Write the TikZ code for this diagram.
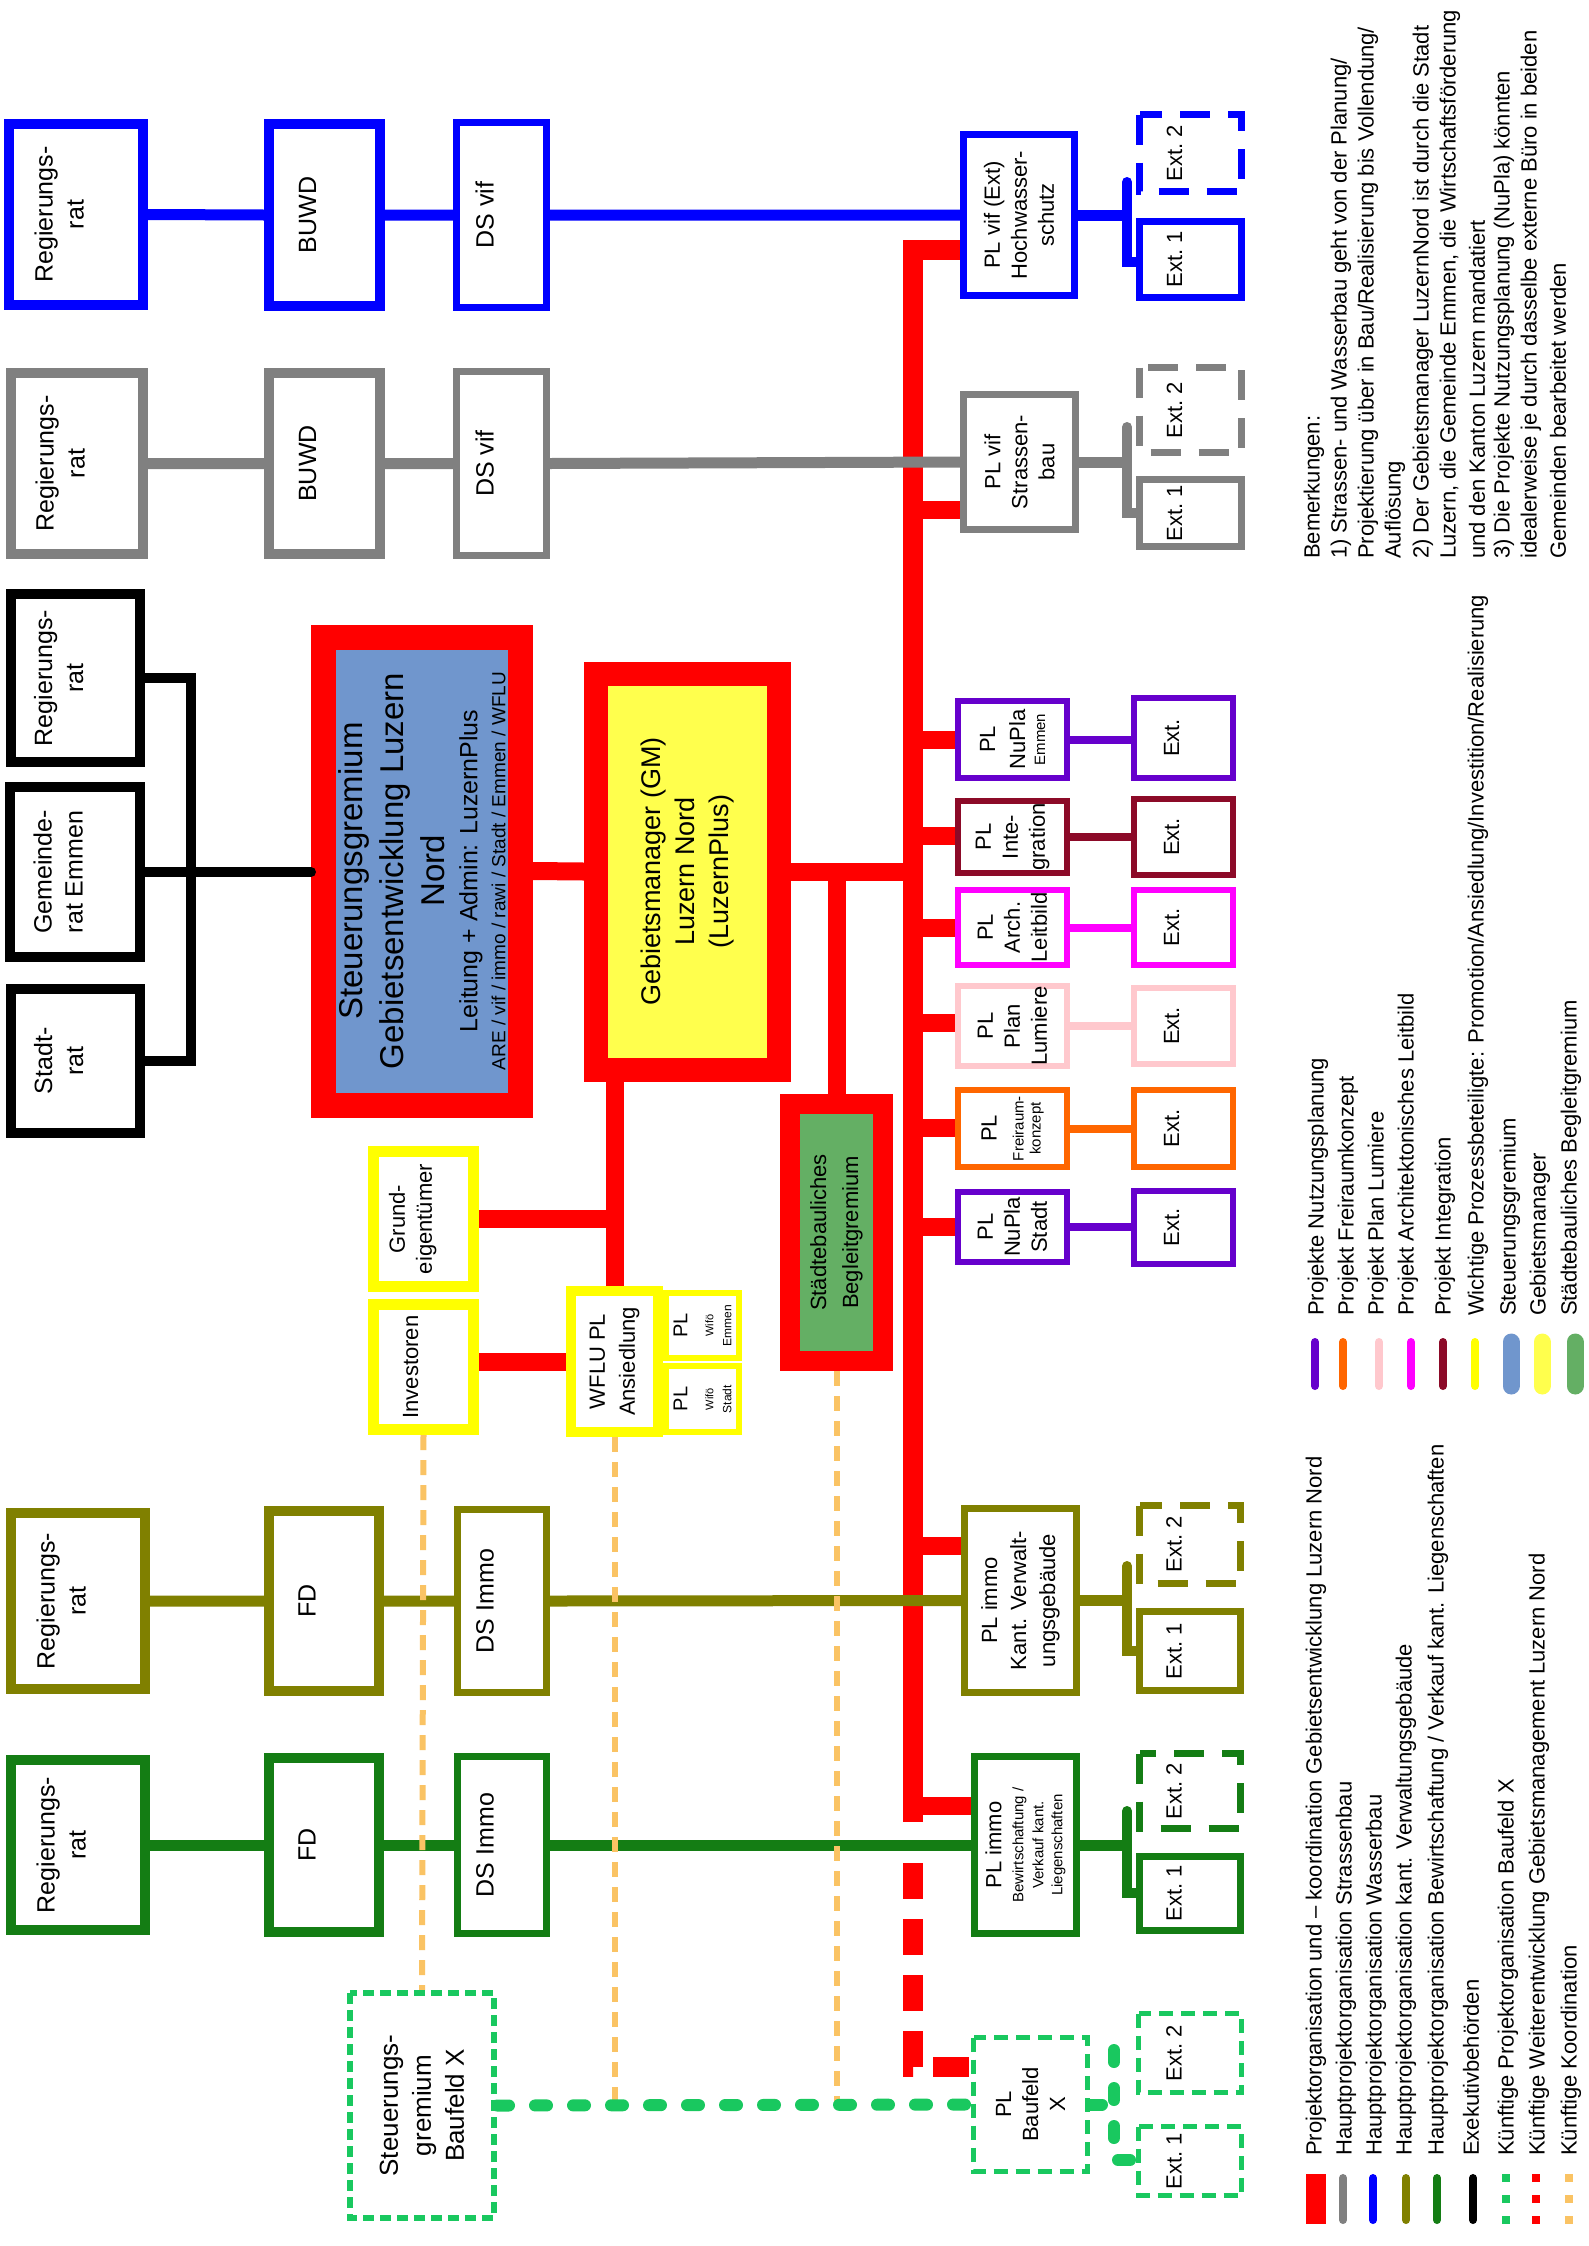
\documentclass[tikz,border=0pt]{standalone}
\usepackage{fontspec}
\setmainfont{Liberation Sans}
\pgfdeclarelayer{bg}
\pgfsetlayers{bg,main}
\newcommand\myfs[2]{\fontsize{#1}{#2}\selectfont}
\definecolor{cred}{RGB}{255,0,0}
\definecolor{cgrey}{RGB}{128,128,128}
\definecolor{cblue}{RGB}{0,0,255}
\definecolor{colive}{RGB}{128,128,0}
\definecolor{cgreen}{RGB}{20,125,20}
\definecolor{cpurple}{RGB}{102,0,204}
\definecolor{corange}{RGB}{255,102,0}
\definecolor{cpink}{RGB}{255,200,205}
\definecolor{cmagenta}{RGB}{255,0,255}
\definecolor{cdarkred}{RGB}{140,10,40}
\definecolor{cyellow}{RGB}{255,255,0}
\definecolor{cgmfill}{RGB}{255,255,77}
\definecolor{csgfill}{RGB}{112,150,205}
\definecolor{csbfill}{RGB}{100,175,100}
\definecolor{cfuture}{RGB}{25,200,95}
\definecolor{ccoord}{RGB}{250,195,100}
\tikzset{
  box/.style={draw, rotate=90, align=center, inner sep=0pt, fill=white, text=black, font=\myfs{22}{27}},
  exec/.style={box, font=\myfs{25}{31}, text depth=34},
  ext/.style={box, line width=7, text depth=32},
  sz/.style 2 args={minimum width=#2, minimum height=#1},
  dsh/.style={dash pattern=on 30pt off 18pt},
  conn/.style={line width=11},
  redl/.style={cred, line width=20},
  reds/.style={cred, line width=18},
  pext/.style={line width=8},
  coordl/.style={ccoord, line width=6, dash pattern=on 15pt off 10pt},
  futl/.style={cfuture, line width=12, line cap=round, dash pattern=on 12pt off 26pt},
  leg/.style={rotate=90, anchor=west, inner sep=0pt, font=\myfs{22}{27}},
  legbar/.style={line width=8, line cap=round},
}
\begin{document}
\begin{tikzpicture}[x=1pt,y=-1pt]
\useasboundingbox (0,0) rectangle (1588,2246);
% ---------- blue row
\node[exec, draw=cblue, line width=10, sz={134}{181}] (bRR) at (76,214.5) {Regierungs-\\rat};
\node[exec, draw=cblue, line width=10, sz={111}{182}] (bBU) at (324.5,215) {BUWD};
\node[exec, draw=cblue, line width=7, sz={90}{185}] (bDS) at (501.5,215) {DS vif};
\node[box, draw=cblue, line width=7, sz={111}{161}] (bPL) at (1019,215) {PL vif (Ext)\\Hochwasser-\\schutz};
\node[ext, draw=cblue, dsh, sz={102}{77}] (bE2) at (1190.5,153) {Ext.\ 2};
\node[ext, draw=cblue, sz={102}{76}] (bE1) at (1190.5,259.5) {Ext.\ 1};
% ---------- grey row
\node[exec, draw=cgrey, line width=10, sz={132}{181}] (gRR) at (77,463.5) {Regierungs-\\rat};
\node[exec, draw=cgrey, line width=10, sz={111}{181}] (gBU) at (324.5,463.5) {BUWD};
\node[exec, draw=cgrey, line width=7, sz={90}{184}] (gDS) at (501.5,463.5) {DS vif};
\node[box, draw=cgrey, line width=7, sz={112}{135}] (gPL) at (1019.5,462) {PL vif\\Strassen-\\bau};
\node[ext, draw=cgrey, dsh, sz={102}{85}] (gE2) at (1190.5,410) {Ext.\ 2};
\node[ext, draw=cgrey, sz={102}{67}] (gE1) at (1190.5,513) {Ext.\ 1};
% ---------- black
\node[exec, draw=black, line width=10, sz={129}{168}] (kRR) at (75.5,678) {Regierungs-\\rat};
\node[exec, draw=black, line width=10, sz={130}{170}] (kGR) at (75,872) {Gemeinde-\\rat Emmen};
\node[exec, draw=black, line width=10, sz={129}{144}] (kSR) at (75.5,1061) {Stadt-\\rat};
% ---------- central
\node[box, draw=cred, fill=csgfill, line width=25, sz={197}{468}, font=\myfs{33}{41}] (SG) at (422,871) {Steuerungsgremium\\Gebietsentwicklung Luzern\\Nord\\[-8pt]{\myfs{25}{31}Leitung + Admin: LuzernPlus}\\[-13pt]{\myfs{19}{24}ARE / vif / immo / rawi / Stadt / Emmen / WFLU}};
\node[box, draw=cred, fill=cgmfill, line width=24, sz={183}{396}, font=\myfs{27}{34}] (GM) at (687.5,871.5) {Gebietsmanager (GM)\\Luzern Nord\\(LuzernPlus)};
\node[box, draw=cred, fill=csbfill, line width=20, sz={93}{257}, font=\myfs{22}{32}] (SB) at (836.5,1232.5) {Städtebauliches\\Begleitgremium};
\node[box, draw=cyellow, line width=11, sz={100}{135}, text depth=26] (GE) at (423.5,1219) {Grund-\\eigentümer};
\node[box, draw=cyellow, line width=11, sz={100}{125}, text depth=26] (IN) at (423.5,1367) {Investoren};
\node[box, draw=cyellow, line width=10, sz={87}{141}, font=\myfs{22}{30}] (WF) at (614.5,1361.5) {WFLU PL\\Ansiedlung};
\node[box, draw=cyellow, line width=6, sz={73}{65}, font=\myfs{20}{24}] (WE) at (702.5,1325.5) {PL\\[2pt]{\myfs{11}{13}Wifö}\\[-6pt]{\myfs{12}{14}Emmen}};
\node[box, draw=cyellow, line width=6, sz={73}{66}, font=\myfs{20}{24}] (WS) at (702.5,1399) {PL\\[2pt]{\myfs{11}{13}Wifö}\\[-6pt]{\myfs{12}{14}Stadt}};
% ---------- project boxes
\node[box, draw=cpurple, line width=6, sz={109}{77}] (NE) at (1012.5,739.5) {PL\\[3pt]NuPla\\[-7pt]{\myfs{15}{17}Emmen}};
\node[box, draw=cpurple, line width=6, sz={99}{80}, text depth=24] (NEx) at (1183.5,738) {Ext.};
\node[box, draw=cdarkred, line width=6, sz={109}{72}] (IG) at (1012.5,837) {PL\\Inte-\\gration};
\node[box, draw=cdarkred, line width=6, sz={99}{76}, text depth=24] (IGx) at (1183.5,837) {Ext.};
\node[box, draw=cmagenta, line width=6, sz={109}{75}] (AL) at (1012.5,927.5) {PL\\Arch.\\Leitbild};
\node[box, draw=cmagenta, line width=6, sz={99}{75}, text depth=24] (ALx) at (1183.5,927.5) {Ext.};
\node[box, draw=cpink, line width=6, sz={109}{76}] (LU) at (1012.5,1026) {PL\\Plan\\Lumiere};
\node[box, draw=cpink, line width=6, sz={99}{76}, text depth=24] (LUx) at (1183.5,1026) {Ext.};
\node[box, draw=corange, line width=6, sz={109}{77}] (FR) at (1012.5,1128.5) {PL\\{\myfs{15}{17}Freiraum-}\\[-10pt]{\myfs{15}{17}konzept}};
\node[box, draw=corange, line width=6, sz={99}{77}, text depth=24] (FRx) at (1183.5,1128.5) {Ext.};
\node[box, draw=cpurple, line width=6, sz={109}{70}] (NS) at (1012.5,1227) {PL\\NuPla\\Stadt};
\node[box, draw=cpurple, line width=6, sz={99}{73}, text depth=24] (NSx) at (1183.5,1227.5) {Ext.};
% ---------- olive row
\node[exec, draw=colive, line width=10, sz={134}{176}] (oRR) at (78,1601) {Regierungs-\\rat};
\node[exec, draw=colive, line width=10, sz={110}{180}] (oFD) at (324,1601) {FD};
\node[exec, draw=colive, line width=7, sz={89}{183}] (oDS) at (502,1601) {DS Immo};
\node[box, draw=colive, line width=7, sz={112}{184}, font=\myfs{22}{29}] (oPL) at (1020.5,1600.5) {PL immo\\Kant. Verwalt-\\ungsgebäude};
\node[ext, draw=colive, dsh, sz={101}{78}] (oE2) at (1190,1544.5) {Ext.\ 2};
\node[ext, draw=colive, sz={101}{79}] (oE1) at (1190,1651) {Ext.\ 1};
% ---------- green row
\node[exec, draw=cgreen, line width=10, sz={134}{170}] (nRR) at (78,1845) {Regierungs-\\rat};
\node[exec, draw=cgreen, line width=10, sz={110}{174}] (nFD) at (324,1845) {FD};
\node[exec, draw=cgreen, line width=7, sz={89}{177}] (nDS) at (502,1845) {DS Immo};
\node[box, draw=cgreen, line width=7, sz={102}{177}] (nPL) at (1025.5,1845) {PL immo\\[-5pt]{\myfs{15}{17}Bewirtschaftung /}\\[-7pt]{\myfs{15}{17}Verkauf kant.}\\[-8pt]{\myfs{15}{17}Liegenschaften}};
\node[ext, draw=cgreen, dsh, sz={101}{75}] (nE2) at (1190,1791) {Ext.\ 2};
\node[ext, draw=cgreen, sz={101}{74}] (nE1) at (1190,1893.5) {Ext.\ 1};
% ---------- future
\node[box, draw=cfuture, line width=6, dash pattern=on 11pt off 6pt, sz={144}{225}, font=\myfs{26}{33}] (fSG) at (422,2105.5) {Steuerungs-\\gremium\\Baufeld X};
\node[box, draw=cfuture, line width=5, dash pattern=on 14pt off 8pt, sz={114}{134}] (fPL) at (1030.5,2104.5) {PL\\Baufeld\\X};
\node[ext, draw=cfuture, line width=5, dash pattern=on 14pt off 8pt, sz={103}{79}] (fE2) at (1190,2053) {Ext.\ 2};
\node[ext, draw=cfuture, line width=5, dash pattern=on 14pt off 8pt, sz={103}{69}] (fE1) at (1190,2161) {Ext.\ 1};

% ---------- connectors
\begin{pgfonlayer}{bg}
\fill[white] (0,0) rectangle (1588,2246);
\coordinate (tTop) at (913,250);
\coordinate (tEnd) at (913,1822);
\draw[redl] (bPL.north |- tTop) -- (tTop) -- (tEnd);
\draw[reds] (SG.south) -- (GM.north);
\draw[reds] (GM.south) -- (GM.south -| tTop);
\coordinate (gsb) at (836.5,871.5);
\draw[reds] (gsb) -- (SB.east);
\draw[reds] (WF.east |- GM.west) -- (WF.east);
\draw[reds] (GE.south) -- (GE.south -| WF.east);
\draw[reds] (WF.north) -- (WF.north -| IN.south);
\foreach \n/\yy in {gPL/510,NE/740,IG/836,AL/928,LU/1023,FR/1128,NS/1227,oPL/1546,nPL/1806}{
  \coordinate (s\n) at (913,\yy);
  \draw[reds] (s\n) -- (s\n -| \n.north);
}
\coordinate (tD) at (913,1863);
\coordinate (tC) at (913,2067);
\draw[cred, line width=20, dash pattern=on 36pt off 20pt] (tD) -- (tC) -- (tC -| fPL.north);
% blue
\draw[conn, cblue] (bRR.south) -- (bBU.north) (bBU.south) -- (bDS.north) (bDS.south) -- (bPL.north);
\coordinate (bb1) at (1127,182); \coordinate (bb2) at (1127,262);
\draw[conn, cblue] (bPL.south) -- (bPL.south -| bb1);
\draw[cblue, line width=10, line cap=round] (bb1) -- (bb2) -- (bb2 -| bE1.north);
% grey
\draw[conn, cgrey] (gRR.south) -- (gBU.north) (gBU.south) -- (gDS.north) (gDS.south) -- (gPL.north);
\coordinate (gb1) at (1127,427); \coordinate (gb2) at (1127,513);
\draw[conn, cgrey] (gPL.south) -- (gPL.south -| gb1);
\draw[cgrey, line width=10, line cap=round] (gb1) -- (gb2) -- (gb2 -| gE1.north);
% olive
\draw[conn, colive] (oRR.south) -- (oFD.north) (oFD.south) -- (oDS.north) (oDS.south) -- (oPL.north);
\coordinate (ob1) at (1127,1566); \coordinate (ob2) at (1127,1651);
\draw[conn, colive] (oPL.south) -- (oPL.south -| ob1);
\draw[colive, line width=10, line cap=round] (ob1) -- (ob2) -- (ob2 -| oE1.north);
% green
\draw[conn, cgreen] (nRR.south) -- (nFD.north) (nFD.south) -- (nDS.north) (nDS.south) -- (nPL.north);
\coordinate (nb1) at (1127,1811); \coordinate (nb2) at (1127,1893);
\draw[conn, cgreen] (nPL.south) -- (nPL.south -| nb1);
\draw[cgreen, line width=10, line cap=round] (nb1) -- (nb2) -- (nb2 -| nE1.north);
% projects
\draw[pext, cpurple] (NE.south) -- (NE.south -| NEx.north);
\draw[pext, cdarkred] (IG.south) -- (IGx.north);
\draw[pext, cmagenta] (AL.south) -- (ALx.north);
\draw[pext, cpink] (LU.south) -- (LUx.north);
\draw[pext, corange] (FR.south) -- (FRx.north);
\draw[pext, cpurple] (NS.south) -- (NS.south -| NSx.north);
% coordination
\coordinate (fl) at (0,2105);
\draw[coordl] (IN.west) -- (fSG.east);
\draw[coordl] (WF.west) -- (WF.west |- fl);
\draw[coordl] (SB.west) -- (SB.west |- fl);
% future
\draw[futl] (fSG.south) -- (fPL.north);
\coordinate (fb1) at (1114,2050); \coordinate (fb2) at (1114,2160);
\draw[futl] (fPL.south) -- (fPL.south -| fb1);
\draw[futl] (fb1) -- (fb2) -- (fb2 -| fE1.north);
\end{pgfonlayer}

% black executive bracket
\coordinate (kb) at (191,871);
\draw[line width=10] (kRR.south) -| (kb) |- (kSR.south);
\draw[line width=10, line cap=round] (kGR.south) -- (kGR.south -| SG.north);

% ---------- remarks
\node[leg] (m0) at (1314,559) {Bemerkungen:};
\node[leg] (m1) at (1341,559) {1) Strassen- und Wasserbau geht von der Planung/};
\node[leg] (m2) at (1368,559) {Projektierung über in Bau/Realisierung bis Vollendung/};
\node[leg] (m3) at (1395,559) {Auflösung};
\node[leg] (m4) at (1423,559) {2) Der Gebietsmanager LuzernNord ist durch die Stadt};
\node[leg] (m5) at (1450,559) {Luzern, die Gemeinde Emmen, die Wirtschaftsförderung};
\node[leg] (m6) at (1477,559) {und den Kanton Luzern mandatiert};
\node[leg] (m7) at (1504,559) {3) Die Projekte Nutzungsplanung (NuPla) könnten};
\node[leg] (m8) at (1531,559) {idealerweise je durch dasselbe externe Büro in beiden};
\node[leg] (m9) at (1558,559) {Gemeinden bearbeitet werden};

% ---------- right legend
\draw[legbar, cpurple] (1315,1342) -- (1315,1386);
\node[leg] (r1) at (1318,1316) {Projekte Nutzungsplanung};
\draw[legbar, corange] (1343,1342) -- (1343,1386);
\node[leg] (r2) at (1348,1316) {Projekt Freiraumkonzept};
\draw[legbar, cpink] (1379,1342) -- (1379,1386);
\node[leg] (r3) at (1378,1316) {Projekt Plan Lumiere};
\draw[legbar, cmagenta] (1411,1342) -- (1411,1386);
\node[leg] (r4) at (1408,1316) {Projekt Architektonisches Leitbild};
\draw[legbar, cdarkred] (1443,1342) -- (1443,1386);
\node[leg] (r5) at (1445,1316) {Projekt Integration};
\draw[legbar, cyellow] (1475,1342) -- (1475,1386);
\node[leg] (r6) at (1478,1316) {Wichtige Prozessbeteiligte: Promotion/Ansiedlung/Investition/Realisierung};
\draw[legbar, csgfill, line width=17] (1511,1342) -- (1511,1386);
\node[leg] (r7) at (1510,1316) {Steuerungsgremium};
\draw[legbar, cgmfill, line width=17] (1542,1342) -- (1542,1386);
\node[leg] (r8) at (1540,1316) {Gebietsmanager};
\draw[legbar, csbfill, line width=17] (1575,1342) -- (1575,1386);
\node[leg] (r9) at (1571,1316) {Städtebauliches Begleitgremium};

% ---------- left legend
\draw[cred, line width=20] (1316,2174) -- (1316,2224);
\node[leg] (l1) at (1316,2156) {Projektorganisation und – koordination Gebietsentwicklung Luzern Nord};
\draw[legbar, cgrey] (1343,2178) -- (1343,2220);
\node[leg] (l2) at (1346,2156) {Hauptprojektorganisation Strassenbau};
\draw[legbar, cblue] (1373,2178) -- (1373,2220);
\node[leg] (l3) at (1376,2156) {Hauptprojektorganisation Wasserbau};
\draw[legbar, colive] (1406,2178) -- (1406,2220);
\node[leg] (l4) at (1406,2156) {Hauptprojektorganisation kant. Verwaltungsgebäude};
\draw[legbar, cgreen] (1437,2178) -- (1437,2220);
\node[leg] (l5) at (1438,2156) {Hauptprojektorganisation Bewirtschaftung / Verkauf kant. Liegenschaften};
\draw[legbar, black] (1473,2178) -- (1473,2220);
\node[leg] (l6) at (1471,2156) {Exekutivbehörden};
\draw[cfuture, line width=8, dash pattern=on 8pt off 13pt] (1506,2174) -- (1506,2224);
\node[leg] (l7) at (1508,2156) {Künftige Projektorganisation Baufeld X};
\draw[cred, line width=8, dash pattern=on 8pt off 13pt] (1536,2174) -- (1536,2224);
\node[leg] (l8) at (1539,2156) {Künftige Weiterentwicklung Gebietsmanagement Luzern Nord};
\draw[ccoord, line width=8, dash pattern=on 8pt off 13pt] (1569,2174) -- (1569,2224);
\node[leg] (l9) at (1571,2156) {Künftige Koordination};
\end{tikzpicture}
\end{document}
